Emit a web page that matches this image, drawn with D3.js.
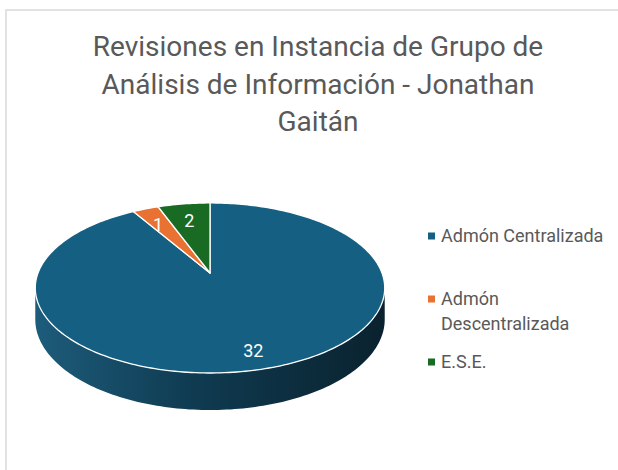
<!DOCTYPE html>
<html>
<head>
<meta charset="utf-8">
<script src="https://cdn.jsdelivr.net/npm/d3@7"></script>
<style>
  body { margin: 0; background: #fff; }
  svg { display: block; font-family: Roboto, "Noto Sans", sans-serif; }
</style>
</head>
<body>
<svg id="chart" width="618" height="470"></svg>
<script>
// Data
const categories = ['Admón Centralizada', 'Admón Descentralizada', 'E.S.E.'];
const values = [32, 1, 2];
const legendLines = [['Admón Centralizada'], ['Admón', 'Descentralizada'], ['E.S.E.']];
const titleLines = ['Revisiones en Instancia de Grupo de', 'Análisis de Información - Jonathan', 'Gaitán'];

// Visual configs
const colors = ['#156082', '#e97132', '#196b24'];
const textColor = '#595959';
const cx = 210, cy = 273,  // projected pie centre
    S = 172,               // horizontal radius scale
    B = 82.4,              // vertical (tilted) radius scale
    k = 0.176,             // perspective factor
    H = 30.5,              // thickness of the pie
    labelR = 0.8;

const svg = d3.select('#chart');

// chart border (only top/left edges visible)
svg.append('path')
    .attr('d', 'M6,470 V10 H618')
    .attr('fill', 'none')
    .attr('stroke', '#d9d9d9')
    .attr('stroke-width', 1.5);

// Title
svg.append('text')
    .attr('x', 318).attr('y', 56)
    .attr('text-anchor', 'middle')
    .attr('fill', textColor)
    .attr('font-size', 28)
    .selectAll('tspan').data(titleLines).join('tspan')
    .attr('x', 318)
    .attr('dy', (d, i) => i ? 37.5 : 0)
    .text(d => d);

// Projection of a point on the pie disc (angle clockwise from 12 o'clock)
function proj(theta, r, down) {
    const X = r * Math.sin(theta), Z = r * Math.cos(theta), w = 1 + k * Z;
    return [cx + S * X / w, cy + (-Z * B + (down ? H : 0)) / w];
}

function arcPoints(a0, a1, r, down) {
    const n = Math.max(2, Math.ceil(Math.abs(a1 - a0) / 0.02));
    return d3.range(n + 1).map(i => proj(a0 + (a1 - a0) * i / n, r, down));
}

const pie = d3.pie().sort(null).value(d => d)(values);
const line = d3.line();

const defs = svg.append('defs');
const grad = defs.append('linearGradient').attr('id', 'side-grad')
    .attr('gradientUnits', 'userSpaceOnUse')
    .attr('x1', 35).attr('x2', 385).attr('y1', 0).attr('y2', 0);
grad.append('stop').attr('offset', 0).attr('stop-color', '#1d5c7b');
grad.append('stop').attr('offset', 0.45).attr('stop-color', '#0f3b51');
grad.append('stop').attr('offset', 1).attr('stop-color', '#0a222e');

const sideColors = ['url(#side-grad)', '#a8501f', '#114b19'];

// Side wall (front part of the cylinder)
const visR = Math.acos(-k), visL = 2 * Math.PI - Math.acos(-k);
const sides = svg.append('g').attr('class', 'sides');
pie.forEach((d, i) => {
    const a0 = Math.max(d.startAngle, visR), a1 = Math.min(d.endAngle, visL);
    if (a1 <= a0) return;
    const pts = arcPoints(a0, a1, 1, false).concat(arcPoints(a1, a0, 1, true));
    sides.append('path')
        .attr('d', line(pts) + 'Z')
        .attr('fill', sideColors[i]);
});

// Top faces
const tops = svg.append('g').attr('class', 'tops');
pie.forEach((d, i) => {
    const pts = [proj(0, 0, false)].concat(arcPoints(d.startAngle, d.endAngle, 1, false));
    tops.append('path')
        .attr('d', line(pts) + 'Z')
        .attr('fill', colors[i])
        .attr('stroke', '#fff')
        .attr('stroke-width', 1.3)
        .attr('stroke-linejoin', 'round');
});

// Data labels
const mid = d => (d.startAngle + d.endAngle) / 2;
svg.append('g').selectAll('text').data(pie).join('text')
    .attr('x', d => proj(mid(d), labelR, false)[0] + 1)
    .attr('y', d => proj(mid(d), labelR, false)[1] + 4)
    .attr('dy', '0.36em')
    .attr('text-anchor', 'middle')
    .attr('fill', '#fff')
    .attr('font-size', 18)
    .text(d => d.data);

// Legend
const legendY = [236, 299, 362];
const legend = svg.append('g').attr('class', 'legend');
categories.forEach((c, i) => {
    const g = legend.append('g').attr('transform', 'translate(428,' + legendY[i] + ')');
    g.append('rect')
        .attr('x', 0).attr('y', -3.5)
        .attr('width', 7).attr('height', 7)
        .attr('fill', colors[i]);
    g.append('text')
        .attr('x', 13).attr('y', 6)
        .attr('fill', textColor)
        .attr('font-size', 18)
        .selectAll('tspan').data(legendLines[i]).join('tspan')
        .attr('x', 13)
        .attr('dy', (d, j) => j ? 25 : 0)
        .text(d => d);
});
</script>
</body>
</html>
